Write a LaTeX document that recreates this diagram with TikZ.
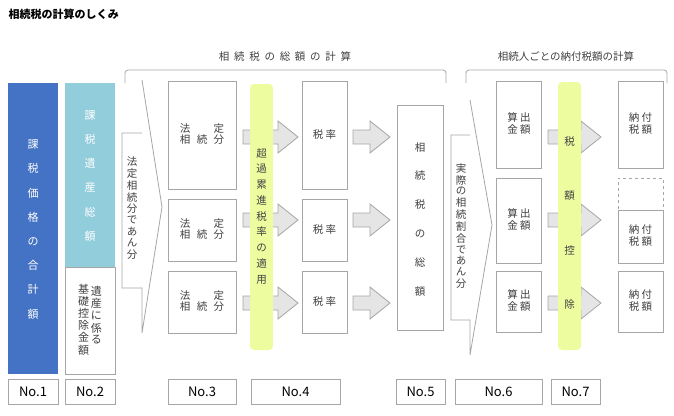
\documentclass[tikz,border=0pt]{standalone}
\usepackage{fontspec}
\setmainfont{Noto Sans CJK JP}
\definecolor{taxblue}{HTML}{4472C4}
\definecolor{lightblue}{HTML}{92CDDC}
\definecolor{lemon}{HTML}{EEFCA0}
\definecolor{edgegray}{HTML}{A6A6A6}
\definecolor{textgray}{HTML}{404040}
\newcommand{\vcol}[2]{\def\arraystretch{#1}\begin{tabular}{@{}c@{}}#2\end{tabular}}
\tikzstyle{box} = [draw=edgegray, fill=white, line width=0.8pt, inner sep=0pt, text=textgray, font=\fontsize{10.5}{10.5}\selectfont]
\tikzstyle{numbox} = [box, font=\fontsize{13}{13}\selectfont, text=black]
\tikzstyle{bar} = [fill=lemon, rounded corners=4pt, inner sep=0pt, text=textgray, font=\fontsize{10.5}{10.5}\selectfont]
\tikzset{fatarrow/.pic={
  \draw[edgegray, line width=0.8pt, fill=gray!20] (0,-7) -- (#1-20,-7) -- (#1-20,-16) -- (#1,0) -- (#1-20,16) -- (#1-20,7) -- (0,7) -- cycle;
}}

\begin{document}
\begin{tikzpicture}[x=1pt, y=-1pt]
\useasboundingbox (0,0) rectangle (674,415);

% Title
\node[anchor=west, font=\bfseries\fontsize{11}{11}\selectfont] (title) at (5,14) {相続税の計算のしくみ};

% Brackets
\draw[edgegray, line width=0.8pt, rounded corners=3pt] (125,83) -- (125,70) -- (446,70) -- (446,83);
\draw[edgegray, line width=0.8pt, rounded corners=3pt] (466,83) -- (466,70) -- (667,70) -- (667,83);
\node[text=textgray, font=\fontsize{10.5}{10.5}\selectfont] (cap1) at (285,56) {相\ \ 続\ \ 税\ \ の\ \ 総\ \ 額\ \ の\ \ 計\ \ 算};
\node[text=textgray, font=\fontsize{10.5}{10.5}\selectfont] (cap2) at (566,56) {相続人ごとの納付税額の計算};

% Columns 1 and 2
\node[fill=taxblue, minimum width=50pt, minimum height=291pt, inner sep=0pt, text=white, font=\fontsize{11}{11}\selectfont] (n1) at (33,228.5) {\vcol{2.2}{課\\税\\価\\格\\の\\合\\計\\額}};
\node[fill=lightblue, minimum width=50pt, minimum height=184pt, inner sep=0pt, text=white, font=\fontsize{11}{11}\selectfont] (n2) at (90,175) {\vcol{2.2}{課\\税\\遺\\産\\総\\額}};
\node[box, minimum width=50pt, minimum height=107pt, font=\fontsize{11}{11}\selectfont] (kiso) at (90,320.5) {\vcol{0.9}{基\\礎\\控\\除\\金\\額}\,\raisebox{4pt}{\vcol{1.02}{遺\\産\\に\\係\\る}}};

% Chevron 1
\draw[edgegray, line width=0.8pt, fill=white] (142,80) -- (162,207) -- (142,333) -- (142,288) -- (122,288) -- (122,133) -- (142,133);
\node[text=textgray, font=\fontsize{10.5}{10.5}\selectfont] (chev1) at (132,209) {\vcol{1.02}{法\\定\\相\\続\\分\\で\\あ\\ん\\分}};

% No.3 and tax rate boxes
\foreach \i/\ya/\yb in {1/81/189, 2/199/261, 3/271/333} {
  \node[box, minimum width=68pt, minimum height=\yb-\ya] (h\i) at (202,{(\ya+\yb)/2}) {\vcol{0.95}{法\hspace{2.2em}定\\相\hspace{0.6em}続\hspace{0.6em}分}};
  \node[box, minimum width=45pt, minimum height=\yb-\ya] (r\i) at (324.5,{(\ya+\yb)/2}) {税\ 率};
}
\foreach \yc in {137, 220, 303} {
  \pic at (243,\yc) {fatarrow=55};
  \pic at (353,\yc) {fatarrow=37};
  \pic at (548,\yc) {fatarrow=53};
}
\node[bar, minimum width=23pt, minimum height=266pt] (chou) at (261.5,217) {\vcol{1.5}{超\\過\\累\\進\\税\\率\\の\\適\\用}};

% No.5
\node[box, minimum width=46pt, minimum height=225pt] (sou) at (420,217.5) {\vcol{2.75}{相\\続\\税\\の\\総\\額}};

% Chevron 2
\draw[edgegray, line width=0.8pt, fill=white] (470,100) -- (492,225) -- (470,355) -- (470,320) -- (451,320) -- (451,135) -- (470,135);
\node[text=textgray, font=\fontsize{10.5}{10.5}\selectfont] (chev2) at (461,227) {\vcol{0.98}{実\\際\\の\\相\\続\\割\\合\\で\\あ\\ん\\分}};

% No.6 and payment boxes
\foreach \i/\ya/\yb in {1/81/168, 2/178/263, 3/271/332} {
  \node[box, minimum width=45pt, minimum height=\yb-\ya] (s\i) at (519,{(\ya+\yb)/2}) {\vcol{0.95}{算\ 出\\金\ 額}};
}
\node[bar, minimum width=23pt, minimum height=268pt] (kojo) at (569.5,216) {\vcol{5.2}{税\\額\\控\\除}};
\node[box, minimum width=45pt, minimum height=87pt] (p1) at (640.5,124.5) {\vcol{0.95}{納\ 付\\税\ 額}};
\node[box, dashed, minimum width=45pt, minimum height=32pt] (pd) at (640.5,194) {};
\node[box, minimum width=45pt, minimum height=53pt] (p2) at (640.5,236.5) {\vcol{0.95}{納\ 付\\税\ 額}};
\node[box, minimum width=45pt, minimum height=61pt] (p3) at (640.5,301.5) {\vcol{0.95}{納\ 付\\税\ 額}};

% Numbers
\foreach \nm/\xa/\xb in {1/8/58, 2/65/115, 3/168/236, 4/251/340, 5/396/445, 6/455/542, 7/551/600} {
  \node[numbox, minimum width=\xb-\xa, minimum height=25pt] (no\nm) at ({(\xa+\xb)/2},391.5) {No.\nm};
}
\end{tikzpicture}
\end{document}
